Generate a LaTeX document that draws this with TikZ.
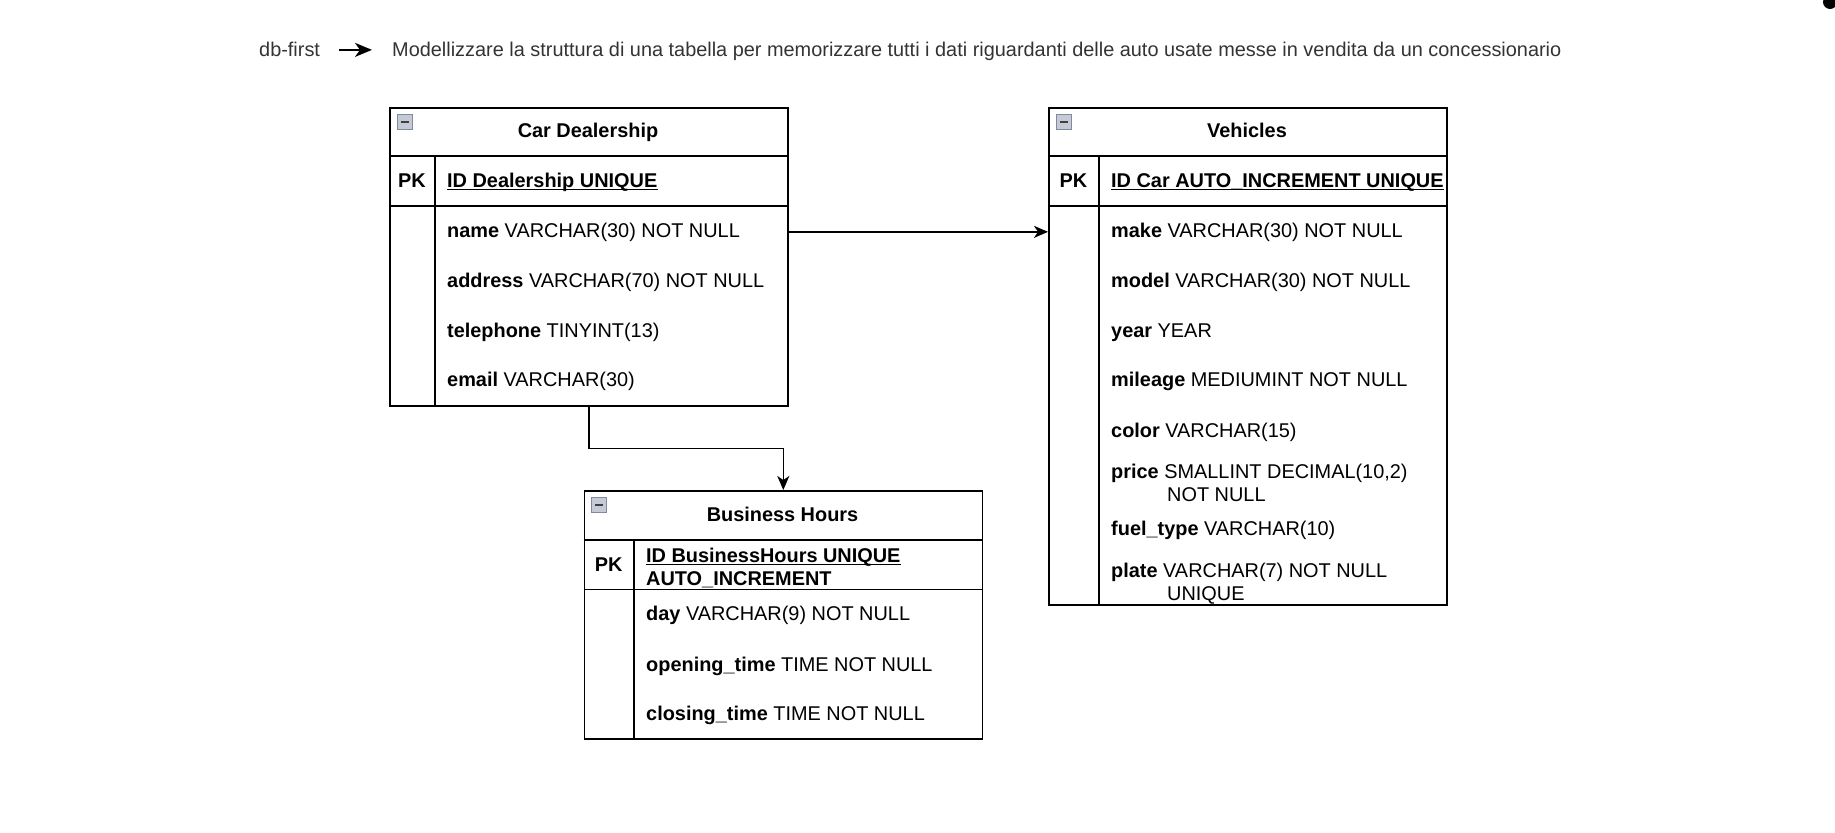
\documentclass[tikz,border=0pt]{standalone}
\usepackage{fontspec}
\setmainfont{Liberation Sans}
\usepackage{tikz}
\usetikzlibrary{positioning,calc,arrows.meta}

\definecolor{titlegray}{RGB}{51,51,51}
\definecolor{iconfill}{RGB}{196,202,214}
\definecolor{iconline}{RGB}{128,138,156}

\newcommand\erfont{\fontsize{19.9}{22}\selectfont}

\tikzset{
  erbox/.style={draw, line width=1.6pt, anchor=north west, inner sep=0pt, minimum width=398pt},
  ttl/.style={font=\erfont\bfseries, anchor=base, inner sep=0pt},
  pk/.style={font=\erfont\bfseries, anchor=base, inner sep=0pt},
  fld/.style={font=\erfont, anchor=base west, inner sep=0pt},
  idfld/.style={fld, font=\erfont\bfseries},
  sep/.style={line width=1.6pt},
  conn/.style={line width=1.6pt, -{Stealth[length=14pt,width=12pt,inset=4pt]}},
}

% small collapse box in the header of a table
\newcommand\foldicon[1]{%
  \draw[iconline, fill=iconfill, line width=0.8pt] ([xshift=8pt,yshift=-7pt]#1.north west) rectangle ++(15,15);
  \draw[black!75, line width=1.6pt] ([xshift=11.5pt,yshift=-15pt]#1.north west) -- ++(8,0);
}
% underline of a key field
\newcommand\keyline[1]{%
  \draw[line width=1.2pt] ([yshift=-2.5pt]#1.base west) -- ([yshift=-2.5pt]#1.base east);
}

\begin{document}
\begin{tikzpicture}[x=1pt,y=-1pt]
\useasboundingbox (0,0) rectangle (1835,832);

% heading
\node[fld, text=titlegray] (dbfirst) at (259,57) {db-first};
\node[fld, text=titlegray] (task) at (392,57) {Modellizzare la struttura di una tabella per memorizzare tutti i dati riguardanti delle auto usate messe in vendita da un concessionario};
\draw[line width=1.7pt, -{Stealth[length=17pt,width=14pt,inset=5pt]}, shorten <=19pt, shorten >=20pt] (dbfirst.east) -- (task.west |- dbfirst.east);

% Car Dealership
\node[erbox, minimum height=298pt] (car) at (389,107) {};
\draw[sep] ([yshift=-49pt]car.north west) -- ([yshift=-49pt]car.north east);
\draw[sep] ([yshift=-99pt]car.north west) -- ([yshift=-99pt]car.north east);
\draw[sep] ([xshift=46pt,yshift=-49pt]car.north west) -- ([xshift=46pt]car.south west);
\foldicon{car}
\node[ttl] (cartitle) at (588,137) {Car Dealership};
\node[pk] (carpk) at (412,187) {PK};
\node[idfld] (carid) at (447,187) {ID Dealership UNIQUE};
\keyline{carid}
\node[fld] (cname) at (447,237) {\textbf{name} VARCHAR(30) NOT NULL};
\node[fld] (caddr) at (447,287) {\textbf{address} VARCHAR(70) NOT NULL};
\node[fld] (ctel) at (447,337) {\textbf{telephone} TINYINT(13)};
\node[fld] (cmail) at (447,386) {\textbf{email} VARCHAR(30)};

% Vehicles
\node[erbox, minimum height=497pt] (veh) at (1048,107) {};
\draw[sep] ([yshift=-49pt]veh.north west) -- ([yshift=-49pt]veh.north east);
\draw[sep] ([yshift=-99pt]veh.north west) -- ([yshift=-99pt]veh.north east);
\draw[sep] ([xshift=51pt,yshift=-49pt]veh.north west) -- ([xshift=51pt]veh.south west);
\foldicon{veh}
\node[ttl] (vehtitle) at (1247,137) {Vehicles};
\node[pk] (vehpk) at (1073.5,187) {PK};
\node[idfld] (vehid) at (1111,187) {ID Car AUTO\_INCREMENT UNIQUE};
\keyline{vehid}
\node[fld] (vmake) at (1111,237) {\textbf{make} VARCHAR(30) NOT NULL};
\node[fld] (vmodel) at (1111,287) {\textbf{model} VARCHAR(30) NOT NULL};
\node[fld] (vyear) at (1111,337) {\textbf{year} YEAR};
\node[fld] (vmiles) at (1111,386) {\textbf{mileage} MEDIUMINT NOT NULL};
\node[fld] (vcolor) at (1111,437) {\textbf{color} VARCHAR(15)};
\node[fld] (vprice) at (1111,478) {\textbf{price} SMALLINT DECIMAL(10,2)};
\node[fld] (vprice2) at (1167,501) {NOT NULL};
\node[fld] (vfuel) at (1111,535) {\textbf{fuel\_type} VARCHAR(10)};
\node[fld] (vplate) at (1111,577) {\textbf{plate} VARCHAR(7) NOT NULL};
\node[fld] (vplate2) at (1167,600) {UNIQUE};

% Business Hours
\node[erbox, minimum height=248pt] (bh) at (583.5,490) {};
\draw[sep] ([yshift=-50pt]bh.north west) -- ([yshift=-50pt]bh.north east);
\draw[sep] ([yshift=-99.5pt]bh.north west) -- ([yshift=-99.5pt]bh.north east);
\draw[sep] ([xshift=50.5pt,yshift=-50pt]bh.north west) -- ([xshift=50.5pt]bh.south west);
\foldicon{bh}
\node[ttl] (bhtitle) at (782.5,521) {Business Hours};
\node[pk] (bhpk) at (608.7,571) {PK};
\node[idfld] (bhid) at (646,562) {ID BusinessHours UNIQUE};
\keyline{bhid}
\node[idfld] (bhid2) at (646,585) {AUTO\_INCREMENT};
\node[fld] (bday) at (646,620) {\textbf{day} VARCHAR(9) NOT NULL};
\node[fld] (bopen) at (646,671) {\textbf{opening\_time} TIME NOT NULL};
\node[fld] (bclose) at (646,720) {\textbf{closing\_time} TIME NOT NULL};

% relations
\draw[conn] (car.east |- cname) -- (veh.west |- cname);
\draw[conn] (car.south) -- ++(0,42) -| (bh.north);

% corner mark
\fill (1830,2) circle (7pt);
\end{tikzpicture}
\end{document}
